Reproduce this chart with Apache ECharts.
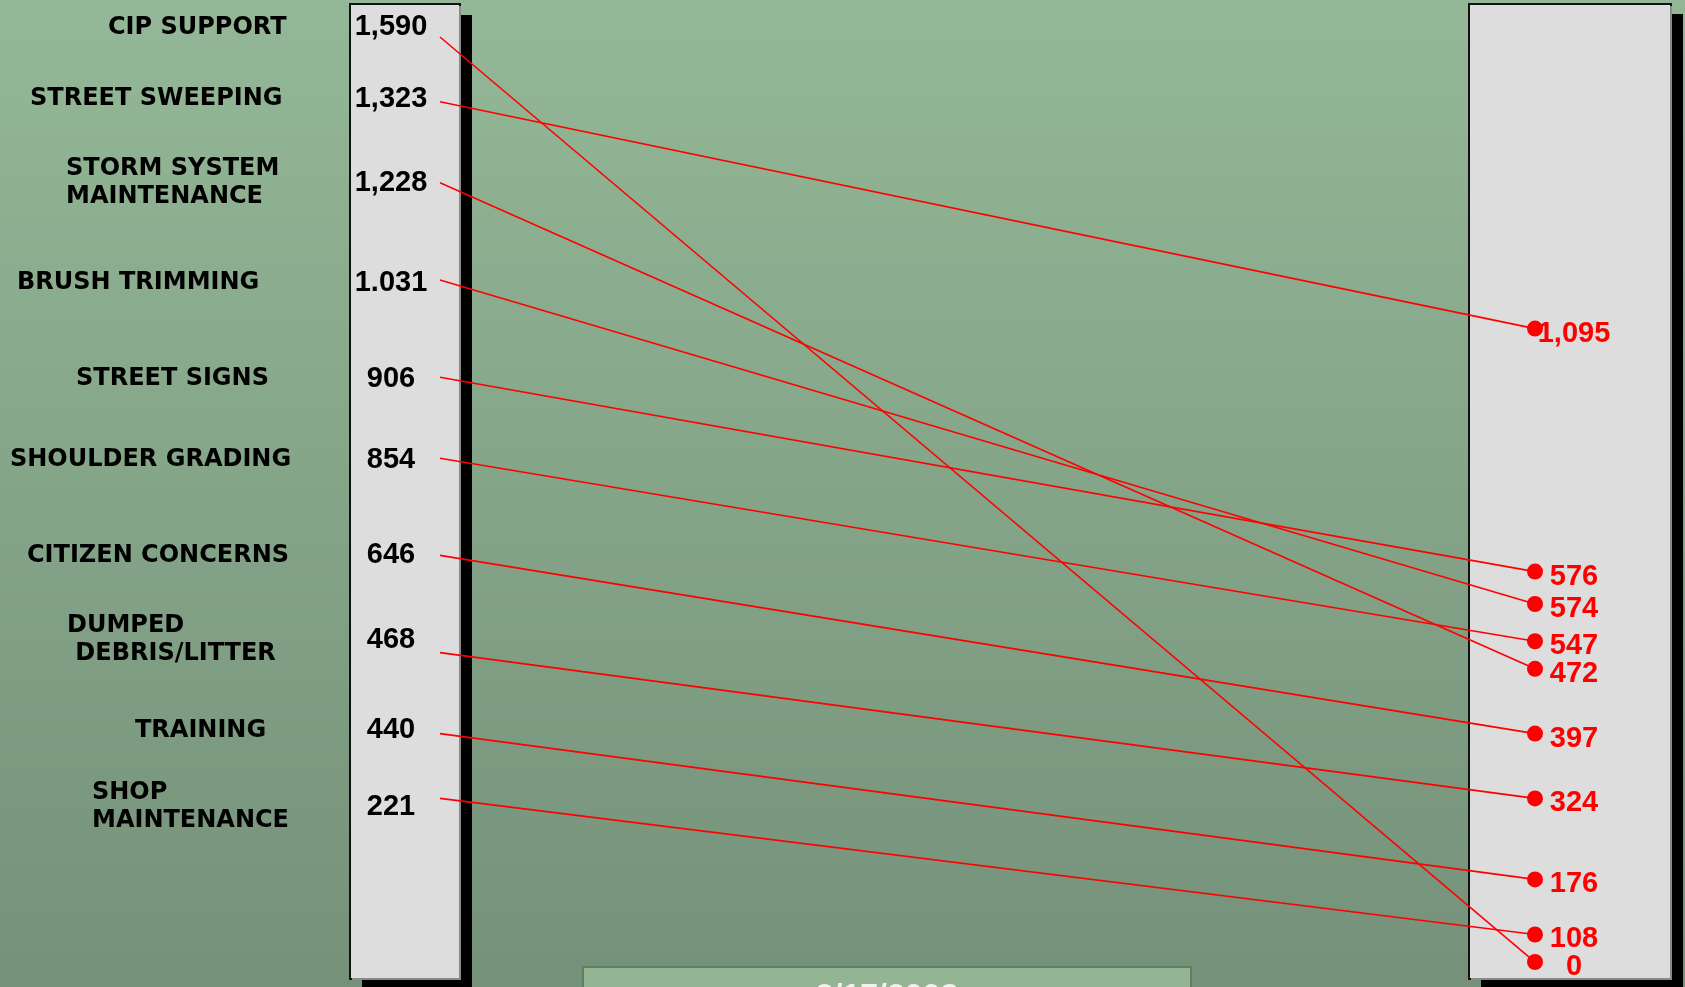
<!DOCTYPE html>
<html><head><meta charset="utf-8">
<script src="https://cdn.jsdelivr.net/npm/echarts@6/dist/echarts.min.js"></script>
<style>html,body{margin:0;padding:0;overflow:hidden;background:#86a588}#c{width:1685px;height:987px}</style>
</head><body><div id="c"></div>
<script>
// ---- data ----
const categories = ['CIP SUPPORT','STREET SWEEPING','STORM SYSTEM\nMAINTENANCE','BRUSH TRIMMING','STREET SIGNS','SHOULDER GRADING','CITIZEN CONCERNS','DUMPED\n DEBRIS/LITTER','TRAINING','SHOP\nMAINTENANCE'];
const leftValues = [1590,1323,1228,1031,906,854,646,468,440,221];
const leftValueLabels = ['1,590','1,323','1,228','1.031','906','854','646','468','440','221'];
const rightValues = [0,1095,472,574,576,547,397,324,176,108];
const dateText = '3/17/2008';

// ---- layout (row slots on the hidden vertical axis) ----
const leftRow = [0,4,9,15,21,26,32,38,43,47];
const textRow = [-0.6,3.8,9,15.2,21.1,26.1,32,37.2,42.8,47.5];
const rightRow = [57.1,18,39,35,33,37.3,43,47,52,55.4];
const catLabelLeft = [108,30,66,17,76,10,27,67,135,92];

const gridLeft = 440, row0 = 37, rowH = 16.2, rowMin = -2, rowMax = 58;
const chart = echarts.init(document.getElementById('c'));

const series = [];
categories.forEach((c, i) => {
  series.push({
    type: 'line', silent: true, symbol: 'none', animation: false, z: 3,
    data: [[0, leftRow[i]], [1, rightRow[i]]],
    lineStyle: { color: '#ff0000', width: 1.6, opacity: 1 }
  });
});
// category labels
series.push({
  type: 'scatter', silent: true, animation: false, symbolSize: 1, z: 4,
  itemStyle: { color: 'rgba(0,0,0,0)', opacity: 1 },
  data: categories.map((c, i) => ({
    value: [0, textRow[i]],
    label: {
      show: true, position: 'inside', formatter: c,
      offset: [catLabelLeft[i] - gridLeft, 0],
      align: 'left', verticalAlign: 'middle',
      color: '#000', fontFamily: 'DejaVu Sans', fontWeight: 'bold', fontSize: 24, lineHeight: 28
    }
  }))
});
// left value labels
series.push({
  type: 'scatter', silent: true, animation: false, symbolSize: 1, z: 4,
  itemStyle: { color: 'rgba(0,0,0,0)', opacity: 1 },
  data: leftValues.map((v, i) => ({
    value: [0, textRow[i], v],
    label: {
      show: true, position: 'inside', formatter: leftValueLabels[i],
      offset: [-49, 0], align: 'center', verticalAlign: 'middle',
      color: '#000', fontFamily: 'Liberation Sans', fontWeight: 'bold', fontSize: 29
    }
  }))
});
// right dots + labels
series.push({
  type: 'scatter', silent: true, animation: false, symbol: 'circle', symbolSize: 16, z: 5,
  itemStyle: { color: '#ff0000', opacity: 1 },
  data: rightValues.map((v, i) => ({ value: [1, rightRow[i], v] })),
  label: {
    show: true, position: 'inside', offset: [39, 5], align: 'center', verticalAlign: 'middle',
    formatter: p => p.value[2].toLocaleString('en-US'),
    color: '#ff0000', fontFamily: 'Liberation Sans', fontWeight: 'bold', fontSize: 29
  }
});

function panel(x, y, w, h, sx, sy) {
  return [
    { type: 'rect', z: -5, shape: { x: x + sx, y: y + sy, width: w, height: h + 20 }, style: { fill: '#000' } },
    { type: 'rect', z: -4, shape: { x: x, y: y, width: w, height: h }, style: { fill: '#dddddd', stroke: '#111', lineWidth: 2 } },
    { type: 'polyline', z: -3, shape: { points: [[x + w, y + 2], [x + w, y + h], [x + 2, y + h]] }, style: { stroke: '#8a8a8a', lineWidth: 2, fill: null } }
  ];
}

chart.setOption({
  animation: false,
  grid: { left: gridLeft, top: row0 + rowMin * rowH, width: 1095, height: rowH * (rowMax - rowMin) },
  xAxis: { type: 'value', min: 0, max: 1, show: false },
  yAxis: { type: 'value', min: rowMin, max: rowMax, inverse: true, show: false },
  graphic: [
    { type: 'rect', z: -10, shape: { x: 0, y: 0, width: 1685, height: 987 },
      style: { fill: new echarts.graphic.LinearGradient(0, 0, 0, 1, [{ offset: 0, color: '#94b897' }, { offset: 1, color: '#75917a' }]) } },
    ...panel(350, 4, 110, 975, 12, 11),
    ...panel(1469, 4, 202, 975, 12, 10),
    { type: 'rect', z: -4, shape: { x: 583, y: 967, width: 608, height: 40 }, style: { fill: '#93b594', stroke: '#5f7f61', lineWidth: 2 } },
    { type: 'text', z: -3, style: { x: 887, y: 997, text: dateText, align: 'center', verticalAlign: 'middle', fill: '#eef3ee', font: 'bold 32px "Liberation Sans"' } }
  ],
  series
});
</script></body></html>
